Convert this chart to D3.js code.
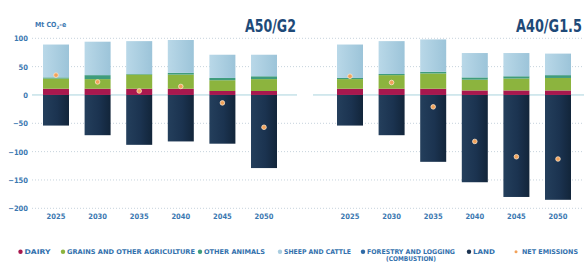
<!DOCTYPE html>
<html>
<head>
<meta charset="utf-8">
<script src="https://cdn.jsdelivr.net/npm/d3@7"></script>
<style>
  body { margin: 0; background: #fff; }
  text { font-family: "Liberation Sans Narrow", "DejaVu Sans Condensed", "Roboto", sans-serif; font-weight: bold; }
</style>
</head>
<body>
<svg id="chart" width="584" height="266"></svg>
<script>
const years = ['2025', '2030', '2035', '2040', '2045', '2050'];
const yTicks = [100, 50, 0, -50, -100, -150, -200];
const seriesKeys = ['dairy', 'grains', 'animals', 'sheep', 'forestry', 'land'];
const seriesColors = ['#a8184e', '#8cb43e', '#3f9c7c', '#a9cde0', '#2f6aa6', '#1b3350'];

// scenario A50/G2
const a50_dairy    = [11, 11, 11, 11, 7, 7];
const a50_grains   = [18, 17, 25, 25, 19, 21];
const a50_animals  = [2, 7, 1, 3, 4, 5];
const a50_sheep    = [58, 59, 58, 58, 41, 38];
const a50_forestry = [0, 0, 0, 0, 0, 0];
const a50_land     = [-54, -71, -88, -82, -86, -129];
const a50_net      = [35, 23, 7, 15, -14, -57];

// scenario A40/G1.5
const a40_dairy    = [11, 11, 11, 8, 8, 8];
const a40_grains   = [17, 24, 27, 19, 21, 22];
const a40_animals  = [2, 2, 3, 4, 4, 5];
const a40_sheep    = [59, 58, 57, 43, 41, 38];
const a40_forestry = [0, 0, 0, 0, 0, 0];
const a40_land     = [-54, -71, -118, -154, -180, -185];
const a40_net      = [33, 22, -21, -82, -109, -113];

const panels = [
  { title: 'A50/G2', range: [43, 277], line: [32, 297], titleX: 245, titleW: 51,
    series: [a50_dairy, a50_grains, a50_animals, a50_sheep, a50_forestry, a50_land], net: a50_net },
  { title: 'A40/G1.5', range: [337, 571], line: [313, 584], titleX: 516, titleW: 66,
    series: [a40_dairy, a40_grains, a40_animals, a40_sheep, a40_forestry, a40_land], net: a40_net }
];

const svg = d3.select('#chart');
const tickBlue = '#3b78b1';

const y = d3.scaleLinear().domain([-200, 100]).range([208.3, 38.3]);

const defs = svg.append('defs');
const landGrad = defs.append('linearGradient').attr('id', 'land-grad');
landGrad.append('stop').attr('offset', '0%').attr('stop-color', '#243f5c');
landGrad.append('stop').attr('offset', '55%').attr('stop-color', '#1b3350');
landGrad.append('stop').attr('offset', '100%').attr('stop-color', '#12253a');
const sheepGrad = defs.append('linearGradient').attr('id', 'sheep-grad');
sheepGrad.append('stop').attr('offset', '0%').attr('stop-color', '#b9d8e8');
sheepGrad.append('stop').attr('offset', '100%').attr('stop-color', '#9cc4d9');

// grid
const grid = svg.append('g').attr('class', 'grid');
grid.selectAll('line').data(yTicks.filter(d => d !== 0)).enter().append('line')
  .attr('x1', 32).attr('x2', 584)
  .attr('y1', d => y(d)).attr('y2', d => y(d))
  .attr('stroke', '#c6d3dc')
  .attr('stroke-width', 1)
  .attr('stroke-dasharray', '1,2');

// y axis labels
const yAxis = d3.axisLeft(y).tickValues(yTicks).tickSize(0).tickPadding(0);
const yAxisG = svg.append('g')
  .attr('transform', 'translate(28,0)')
  .call(yAxis);
yAxisG.select('.domain').remove();
yAxisG.selectAll('text')
  .attr('fill', tickBlue)
  .attr('font-size', 7.5)
  .attr('font-family', '"Liberation Sans Narrow", "DejaVu Sans Condensed", sans-serif')
  .attr('font-weight', 'bold');

// unit label
const unit = svg.append('text')
  .attr('x', 35).attr('y', 27)
  .attr('fill', tickBlue)
  .attr('font-size', 7);
unit.append('tspan').text('Mt CO');
unit.append('tspan').attr('font-size', 4.5).attr('dy', 1.5).text('2');
unit.append('tspan').attr('dy', -1.5).text('-e');

panels.forEach(p => {
  const x = d3.scaleBand().domain(years).range(p.range).paddingInner(0.375).paddingOuter(0);
  const g = svg.append('g');

  // zero line
  g.append('line')
    .attr('x1', p.line[0]).attr('x2', p.line[1])
    .attr('y1', y(0)).attr('y2', y(0))
    .attr('stroke', '#a9d3dd').attr('stroke-width', 1);

  const rows = years.map((yr, i) => {
    const r = { year: yr };
    seriesKeys.forEach((k, j) => r[k] = p.series[j][i]);
    return r;
  });
  const stacked = d3.stack().keys(seriesKeys).offset(d3.stackOffsetDiverging)(rows);

  g.selectAll('.layer').data(stacked).enter().append('g')
    .attr('class', 'layer')
    .attr('fill', d => d.key === 'land' ? 'url(#land-grad)' : d.key === 'sheep' ? 'url(#sheep-grad)' : seriesColors[seriesKeys.indexOf(d.key)])
    .selectAll('rect').data(d => d).enter().append('rect')
      .attr('x', d => x(d.data.year))
      .attr('width', x.bandwidth())
      .attr('y', d => y(Math.max(d[0], d[1])))
      .attr('height', d => Math.abs(y(d[0]) - y(d[1])));

  // net emissions
  g.selectAll('.net').data(p.net).enter().append('circle')
    .attr('class', 'net')
    .attr('cx', (d, i) => x(years[i]) + x.bandwidth() / 2)
    .attr('cy', d => y(d))
    .attr('r', 2.3)
    .attr('fill', '#f2a25a')
    .attr('stroke', '#fbe3c8')
    .attr('stroke-width', 0.8);

  // x axis labels
  const xAxisG = g.append('g')
    .attr('transform', 'translate(0,214)')
    .call(d3.axisBottom(x).tickSize(0).tickPadding(0));
  xAxisG.select('.domain').remove();
  xAxisG.selectAll('text')
    .attr('fill', tickBlue)
    .attr('font-size', 7.5)
    .attr('font-family', '"Liberation Sans Narrow", "DejaVu Sans Condensed", sans-serif')
    .attr('font-weight', 'bold');

  // title, squeezed horizontally to the reference width
  const title = g.append('text')
    .attr('x', 0).attr('y', 0)
    .attr('fill', '#1e4a78')
    .attr('font-size', 17)
    .text(p.title);
  const natural = title.node().getComputedTextLength();
  title.attr('transform', `translate(${p.titleX},32) scale(${p.titleW / natural},1)`);
});

// legend
const legendItems = [
  { name: 'DAIRY', color: seriesColors[0], x: 20.5, w: 26 },
  { name: 'GRAINS AND OTHER AGRICULTURE', color: seriesColors[1], x: 63, w: 128 },
  { name: 'OTHER ANIMALS', color: seriesColors[2], x: 200, w: 61 },
  { name: 'SHEEP AND CATTLE', color: seriesColors[3], x: 280, w: 67 },
  { name: 'FORESTRY AND LOGGING', sub: '(COMBUSTION)', color: seriesColors[4], x: 363, w: 88 },
  { name: 'LAND', color: seriesColors[5], x: 469, w: 22 },
  { name: 'NET EMISSIONS', color: '#f2a25a', x: 516, w: 56, small: true }
];
const legend = svg.append('g').attr('class', 'legend');
const li = legend.selectAll('g').data(legendItems).enter().append('g')
  .attr('transform', d => `translate(${d.x},254)`);
li.append('circle')
  .attr('r', d => d.small ? 1.5 : 2.2)
  .attr('cy', -2.2)
  .attr('fill', d => d.color);
li.append('text')
  .attr('x', d => d.small ? 6 : 4).attr('y', 0)
  .attr('fill', '#3371ad')
  .attr('font-size', 6.5)
  .attr('textLength', d => d.w)
  .attr('lengthAdjust', 'spacingAndGlyphs')
  .text(d => d.name);
li.filter(d => d.sub).append('text')
  .attr('x', 48).attr('y', 6.5)
  .attr('text-anchor', 'middle')
  .attr('fill', '#3371ad')
  .attr('font-size', 6.5)
  .text(d => d.sub);
</script>
</body>
</html>
